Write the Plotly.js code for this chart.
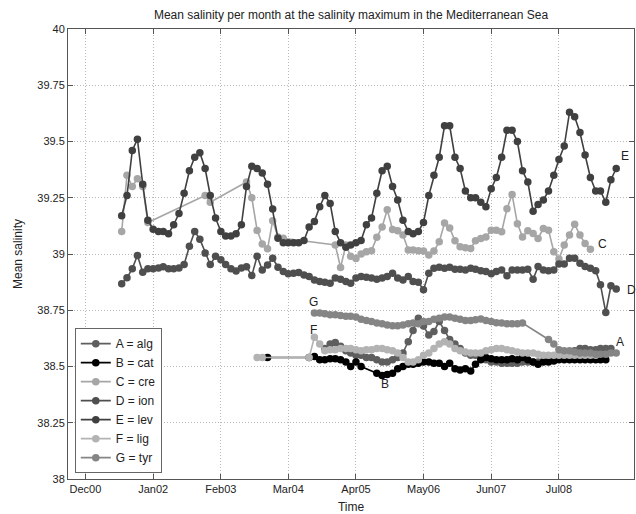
<!DOCTYPE html>
<html><head><meta charset="utf-8">
<script src="https://cdn.plot.ly/plotly-3.0.1.min.js"></script>
<style>html,body{margin:0;padding:0;background:#fff}#chart{width:636px;height:514px}</style>
</head><body><div id="chart"></div>
<script>
// Month index 0 = Dec 2000. Each series: first month index + monthly values (null = missing month)
const seriesNames = ['A = alg','B = cat','C = cre','D = ion','E = lev','F = lig','G = tyr'];
const seriesLabels = ['A','B','C','D','E','F','G'];

const startA = 46;
const valuesA = [38.58,38.60,38.607,38.59,38.57,38.56,38.55,38.55,38.54,38.54,38.53,38.52,38.52,38.53,38.54,38.56,
  38.61,38.66,38.715,38.68,38.64,38.656,38.70,38.66,38.62,38.60,38.58,38.56,38.55,38.55,38.54,38.53,38.52,38.52,
  38.515,38.515,38.515,38.515,38.52,38.52,38.52,38.52,38.525,38.53,38.53,38.535,38.54,38.55,38.57,38.58,38.58,
  38.575,38.575,38.58,38.58,38.58];

const startB = 35;
const valuesB = [38.54,null,null,null,null,null,null,null,38.54,38.545,38.53,38.53,38.535,38.535,38.53,38.52,38.50,
  38.52,38.50,null,null,38.47,38.46,38.465,38.47,38.49,38.50,38.51,38.51,38.515,38.52,38.52,38.515,38.515,38.50,
  38.515,38.49,38.485,38.49,38.48,38.51,38.53,38.54,38.535,38.53,38.53,38.53,38.535,38.53,38.54,38.53,38.52,38.51,
  38.52,38.52,38.525,38.53,38.53,38.53,38.53,38.53,38.53,38.53,38.53,38.53,38.53];

const startC = 7;
const valuesC = [39.10,39.35,39.30,39.335,39.30,39.14,null,null,null,null,null,null,null,null,null,null,39.26,39.23,
  null,null,null,null,null,null,39.32,39.25,39.105,39.045,39.023,39.148,39.076,39.07,null,null,null,null,null,null,
  null,null,null,39.04,38.94,39.04,38.99,38.98,39.00,39.01,39.015,39.074,39.12,39.197,39.109,39.103,39.084,39.018,
  39.018,39.015,39.013,38.996,39.013,39.054,39.138,39.116,39.059,39.032,39.028,39.025,39.059,39.069,39.076,39.106,
  39.106,39.099,39.201,39.265,39.135,39.076,39.103,39.091,39.069,39.113,39.106,39.01,38.978,39.04,39.084,39.132,
  39.084,39.047,39.021];

const startD = 7;
const valuesD = [38.868,38.894,38.935,38.993,38.919,38.935,38.935,38.938,38.943,38.935,38.934,38.938,38.953,39.034,
  39.10,39.066,39.004,38.953,38.99,38.975,38.953,38.934,38.924,38.938,38.943,38.904,38.99,38.929,38.951,38.981,
  38.941,38.922,38.912,38.915,38.918,38.907,38.90,38.885,38.878,38.874,38.87,38.893,38.888,38.878,38.87,38.893,
  38.90,38.897,38.893,38.888,38.893,38.90,38.915,38.893,38.885,38.90,38.878,38.874,38.841,38.915,38.937,38.941,
  38.937,38.941,38.932,38.932,38.929,38.937,38.932,38.926,38.922,38.912,38.922,38.929,38.903,38.929,38.929,38.929,
  38.932,38.888,38.944,38.929,38.926,38.929,38.956,38.956,38.981,38.981,38.959,38.944,38.937,38.926,38.863,38.74,
  38.859,38.844];

const startE = 7;
const valuesE = [39.17,39.26,39.46,39.51,39.31,39.15,39.11,39.10,39.10,39.09,39.13,39.18,39.27,39.37,39.43,39.45,
  39.38,39.26,39.16,39.10,39.08,39.08,39.09,39.13,39.30,39.39,39.38,39.36,39.31,39.20,39.07,39.05,39.05,39.05,39.05,
  39.06,39.12,39.145,39.21,39.26,39.225,39.10,39.05,39.03,39.04,39.05,39.06,39.13,39.16,39.27,39.37,39.39,39.30,
  39.24,39.15,39.10,39.09,39.10,39.14,39.26,39.35,39.43,39.57,39.57,39.43,39.38,39.28,39.25,39.25,39.23,39.21,39.29,
  39.34,39.43,39.55,39.55,39.50,39.37,39.32,39.19,39.22,39.24,39.28,39.35,39.42,39.48,39.63,39.61,39.54,39.44,39.34,
  39.28,39.28,39.23,39.33,39.38];

const startF = 33;
const valuesF = [38.54,38.54,null,null,null,null,null,null,null,null,38.54,38.63,38.60,38.57,38.575,38.575,38.58,
  38.58,38.58,38.575,38.57,38.575,38.575,38.58,38.58,38.575,38.57,38.56,38.54,38.52,38.52,38.53,38.55,38.56,38.58,
  38.60,38.61,38.60,38.58,38.57,38.565,38.56,38.56,38.56,38.57,38.575,38.58,38.58,38.575,38.57,38.565,38.56,38.56,
  38.56,38.555,38.55,38.55,38.55,38.55,38.55,38.55,38.55,38.55,38.55,38.55,38.55];

const startG = 44;
const valuesG = [38.738,38.738,38.735,38.73,38.73,38.727,38.723,38.723,38.72,38.71,38.705,38.70,38.693,38.69,38.685,
  38.681,38.681,38.685,38.69,38.693,38.69,38.70,38.70,38.71,38.715,38.72,38.72,38.715,38.71,38.705,38.705,38.708,
  38.711,38.705,38.70,38.695,38.693,38.69,38.69,38.69,38.693,null,null,null,null,38.62,38.60,38.575,38.57,38.57,
  38.565,38.56,38.56,38.56,38.555,38.555,38.555,38.56,38.56];

const tickDates = ['2000-12-01','2002-01-01','2003-02-01','2004-03-01','2005-04-01','2006-05-01','2007-06-01','2008-07-01'];
const tickLabels = ['Dec00','Jan02','Feb03','Mar04','Apr05','May06','Jun07','Jul08'];
const yTicks = [38,38.25,38.5,38.75,39,39.25,39.5,39.75,40];
const yTickLabels = ['38','38.25','38.5','38.75','39','39.25','39.5','39.75','40'];

// label anchor points (month index, value)
const labelMonths = [102.7,57.5,99.3,105.0,103.7,43.8,43.9];
const labelValues = [38.608,38.422,39.045,38.839,39.434,38.661,38.786];

const colors = ['#5e5e5e','#000000','#a6a6a6','#4f4f4f','#404040','#b3b3b3','#858585'];

function monthDate(m){
  const whole = Math.floor(m), frac = m - whole;
  const total = 2000*12 + 11 + whole;
  const d = new Date(Date.UTC(Math.floor(total/12), total%12, 1));
  d.setUTCDate(1 + Math.round(frac*30));
  return d.toISOString().slice(0,10);
}
function dates(start, n){ const out=[]; for(let i=0;i<n;i++) out.push(monthDate(start+i)); return out; }

const starts = [startA,startB,startC,startD,startE,startF,startG];
const vals = [valuesA,valuesB,valuesC,valuesD,valuesE,valuesF,valuesG];

const traces = vals.map((v,i)=>({
  type:'scatter', mode:'lines+markers', name:seriesNames[i],
  x: dates(starts[i], v.length), y: v, connectgaps:true,
  line:{color:colors[i], width:1.6},
  marker:{color:colors[i], size:7.5, symbol:'circle', line:{width:0}}
}));

const annotations = labelMonths.map((m,i)=>({
  x: monthDate(m), y: labelValues[i], xref:'x', yref:'y', text: seriesLabels[i],
  showarrow:false, font:{size:12, color:'#222', family:'Liberation Sans, Arial, sans-serif'}
}));

const layout = {
  width:636, height:514, margin:{l:68, r:2, t:29, b:35},
  paper_bgcolor:'#fff', plot_bgcolor:'#fff',
  font:{family:'Liberation Sans, Arial, sans-serif', size:11, color:'#222'},
  title:{text:'Mean salinity per month at the salinity maximum in the Mediterranean Sea',
    x:0.5, xref:'paper', y:1-15/514, yanchor:'middle', font:{size:12, color:'#222'}},
  xaxis:{type:'date', range:['2000-08-21','2009-09-13'], tickvals:tickDates, ticktext:tickLabels,
    showgrid:true, gridcolor:'#b8b8b8', griddash:'1px,2px', gridwidth:1, zeroline:false,
    showline:true, linecolor:'#555', linewidth:1, mirror:'ticks', ticks:'inside', ticklen:5, tickcolor:'#555',
    tickfont:{size:11}, title:{text:'Time', font:{size:12}, standoff:8}},
  yaxis:{range:[38,40], tickvals:yTicks, ticktext:yTickLabels,
    showgrid:true, gridcolor:'#b8b8b8', griddash:'1px,2px', gridwidth:1, zeroline:false,
    showline:true, linecolor:'#555', linewidth:1, mirror:'ticks', ticks:'inside', ticklen:5, tickcolor:'#555',
    tickfont:{size:11}, title:{text:'Mean salinity', font:{size:12}, standoff:12}},
  legend:{x:0.012, y:0.013, xanchor:'left', yanchor:'bottom', bgcolor:'#fff', bordercolor:'#666', borderwidth:1,
    font:{size:12, color:'#222'}, tracegroupgap:0},
  annotations: annotations,
  showlegend:true
};
Plotly.newPlot('chart', traces, layout, {displayModeBar:false, staticPlot:true});
</script>
</body></html>
